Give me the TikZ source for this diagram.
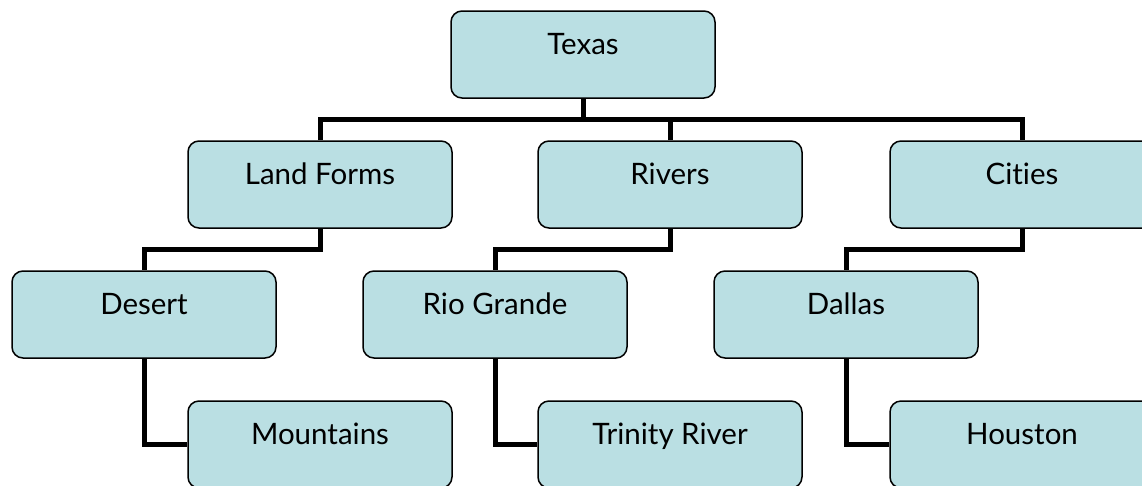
\documentclass[tikz,border=0pt]{standalone}
\usepackage{fontspec}
\setmainfont{Lato}[Ligatures=NoCommon]
\usepackage{tikz}
\usetikzlibrary{calc}
\definecolor{boxblue}{RGB}{186,223,227}
\tikzset{
  topic/.style={draw=black, line width=1.5pt, fill=boxblue, rounded corners=11pt,
    minimum width=264pt, inner sep=0pt, text height=43pt, text depth=44pt,
    font=\fontsize{29.5}{35}\selectfont},
  link/.style={line width=5pt, black}
}

\begin{document}
\begin{tikzpicture}[x=1pt, y=-1pt]
\useasboundingbox (0,0) rectangle (1142,485);
\clip (0,0) rectangle (1142,485);
\node [topic] (texas) at (583,54.5) {Texas};
\node [topic] (landforms) at (320,184.5) {Land Forms};
\node [topic] (rivers) at (670,184.5) {Rivers};
\node [topic] (cities) at (1022,184.5) {Cities};
\node [topic] (desert) at (144,314.5) {Desert};
\node [topic] (riogrande) at (495,314.5) {Rio Grande};
\node [topic] (dallas) at (846,314.5) {Dallas};
\node [topic] (mountains) at (320,444.5) {Mountains};
\node [topic] (trinity) at (670,444.5) {Trinity River};
\node [topic] (houston) at (1022,444.5) {Houston};
% top level
\coordinate (topbus) at ($(texas.south)!0.5!(rivers.north)$);
\draw[link] (landforms.north) |- (topbus) -| (cities.north);
\draw[link] (texas.south) -- (texas.south |- topbus);
\draw[link] (rivers.north) -- (rivers.north |- topbus);
% second level
\draw[link] (landforms.south) |- ($(landforms.south)!0.5!(desert.north)$) -| (desert.north);
\draw[link] (rivers.south) |- ($(rivers.south)!0.5!(riogrande.north)$) -| (riogrande.north);
\draw[link] (cities.south) |- ($(cities.south)!0.5!(dallas.north)$) -| (dallas.north);
\draw[link] (desert.south) |- (mountains.west);
\draw[link] (riogrande.south) |- (trinity.west);
\draw[link] (dallas.south) |- (houston.west);
\end{tikzpicture}
\end{document}
